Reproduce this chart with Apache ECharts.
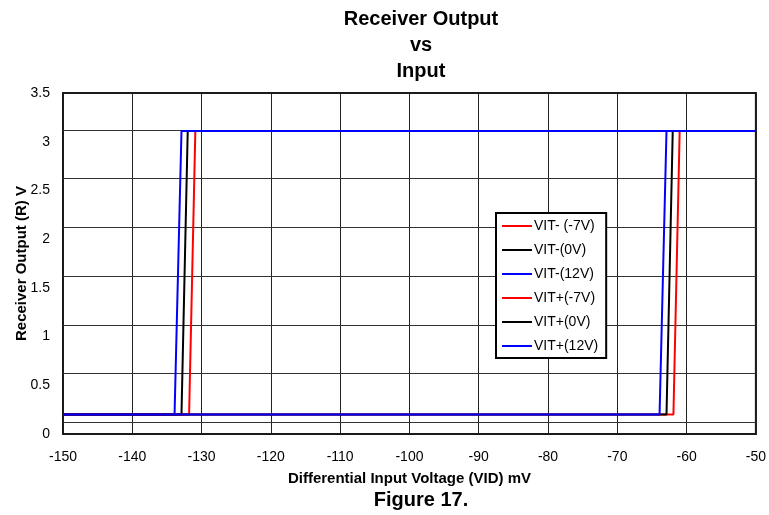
<!DOCTYPE html>
<html>
<head>
<meta charset="utf-8">
<script src="https://cdn.jsdelivr.net/npm/echarts@6/dist/echarts.min.js"></script>
<style>
html,body{margin:0;padding:0;background:#fff;}
#chart{width:769px;height:515px;}
</style>
</head>
<body>
<div id="chart"></div>
<script>
// ---- data ----
var seriesNames = ['VIT- (-7V)', 'VIT-(0V)', 'VIT-(12V)', 'VIT+(-7V)', 'VIT+(0V)', 'VIT+(12V)'];
var seriesColors = ['#ff0000', '#000000', '#0000ff', '#ff0000', '#000000', '#0000ff'];
// transition start (low end) and end (high end), mV
var transLow  = [-131.8, -132.9, -133.9, -61.9, -62.9, -63.9];
var transHigh = [-130.9, -132.0, -132.9, -61.0, -62.0, -62.9];
var lowLevel = 0.2;   // V
var highLevel = 3.11; // V
var sweepStart = -150, sweepEnd = -50;
var xTicks = { min: -150, max: -50, step: 10 };
var yTicks = { min: 0, max: 3.5, step: 0.5 };
var hGridLevels = [0.12, 0.62, 1.12, 1.62, 2.12, 2.62, 3.12];

var FONT = '"Liberation Sans", Arial, Helvetica, sans-serif';

var series = [{
  name: '_grid', type: 'line', data: [], silent: true, z: 1,
  markLine: {
    silent: true, symbol: ['none', 'none'], animation: false, z: 1, zlevel: 0,
    label: { show: false },
    lineStyle: { color: '#333', width: 1, type: 'solid' },
    emphasis: { disabled: true },
    data: hGridLevels.map(function (v) { return { yAxis: v }; })
  }
}];
seriesNames.forEach(function (n, i) {
  series.push({
    name: n, type: 'line', symbol: 'none', z: 6,
    lineStyle: { color: seriesColors[i], width: 2 },
    itemStyle: { color: seriesColors[i] },
    animation: false,
    data: [[sweepStart, lowLevel], [transLow[i], lowLevel], [transHigh[i], highLevel], [sweepEnd, highLevel]]
  });
});

var chart = echarts.init(document.getElementById('chart'));
chart.setOption({
  backgroundColor: '#fff',
  animation: false,
  title: [{
    text: 'Receiver Output\nvs\nInput',
    left: 416, top: 1, textAlign: 'center',
    textStyle: { fontFamily: FONT, fontWeight: 'bold', fontSize: 20, lineHeight: 26, color: '#000' }
  }, {
    text: 'Figure 17.',
    left: 416, top: 485, textAlign: 'center',
    textStyle: { fontFamily: FONT, fontWeight: 'bold', fontSize: 20, color: '#000' }
  }],
  grid: { left: 63, right: 11, top: 93, height: 341, show: true, borderColor: '#1a1a1a', borderWidth: 2, backgroundColor: 'transparent' },
  legend: {
    data: seriesNames,
    orient: 'vertical',
    left: 496, top: 213,
    backgroundColor: '#fff',
    borderColor: '#000', borderWidth: 2, borderRadius: 0,
    padding: [6, 8, 5, 6],
    itemWidth: 30, itemHeight: 2, itemGap: 10,
    icon: 'rect',
    textStyle: { fontFamily: FONT, fontSize: 14, color: '#000', padding: [0, 0, 0, -3] },
    selectedMode: false,
    z: 10
  },
  xAxis: {
    type: 'value', min: xTicks.min, max: xTicks.max, interval: xTicks.step,
    name: 'Differential Input Voltage (VID) mV', nameLocation: 'middle', nameGap: 37,
    nameMoveOverlap: false,
    nameTextStyle: { fontFamily: FONT, fontWeight: 'bold', fontSize: 15, color: '#000' },
    axisLine: { show: true, onZero: false, lineStyle: { color: '#1a1a1a', width: 2 } },
    axisTick: { show: false },
    axisLabel: { fontFamily: FONT, fontSize: 14, color: '#000', margin: 16 },
    splitLine: { show: true, lineStyle: { color: '#222', width: 1 } }
  },
  yAxis: {
    type: 'value', min: yTicks.min, max: yTicks.max, interval: yTicks.step,
    name: 'Receiver Output (R) V', nameLocation: 'middle', nameGap: 34, nameRotate: 90,
    nameMoveOverlap: false,
    nameTextStyle: { fontFamily: FONT, fontWeight: 'bold', fontSize: 15, color: '#000' },
    axisLine: { show: true, lineStyle: { color: '#1a1a1a', width: 2 } },
    axisTick: { show: false },
    axisLabel: { fontFamily: FONT, fontSize: 14, color: '#000', margin: 13 },
    splitLine: { show: false }
  },
  series: series
});
</script>
</body>
</html>
